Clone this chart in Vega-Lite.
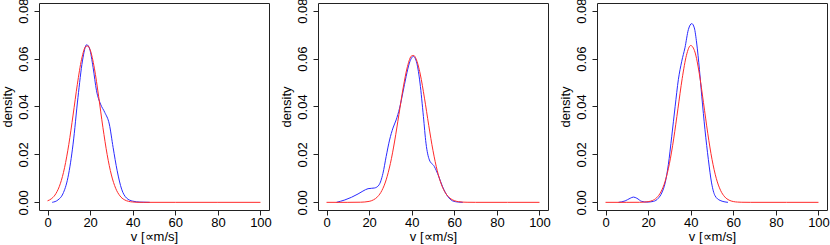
{
  "$schema": "https://vega.github.io/schema/vega-lite/v6.json",
  "padding": {"left": 0, "top": -3, "right": 2, "bottom": 0},
  "bounds": "flush",
  "spacing": 49,
  "background": "white",
  "datasets": {
    "curves": [
      {"panel": 1, "series": "empirical", "x": 2.2, "y": 0},
      {"panel": 1, "series": "empirical", "x": 4.9, "y": 0.001},
      {"panel": 1, "series": "empirical", "x": 7.2, "y": 0.0035},
      {"panel": 1, "series": "empirical", "x": 9.6, "y": 0.0104},
      {"panel": 1, "series": "empirical", "x": 12, "y": 0.0243},
      {"panel": 1, "series": "empirical", "x": 14.3, "y": 0.0438},
      {"panel": 1, "series": "empirical", "x": 16.4, "y": 0.059},
      {"panel": 1, "series": "empirical", "x": 18.4, "y": 0.0658},
      {"panel": 1, "series": "empirical", "x": 19.8, "y": 0.064},
      {"panel": 1, "series": "empirical", "x": 21.4, "y": 0.0563},
      {"panel": 1, "series": "empirical", "x": 23, "y": 0.0466},
      {"panel": 1, "series": "empirical", "x": 24.9, "y": 0.041},
      {"panel": 1, "series": "empirical", "x": 26.9, "y": 0.0375},
      {"panel": 1, "series": "empirical", "x": 29, "y": 0.0327},
      {"panel": 1, "series": "empirical", "x": 30.8, "y": 0.0229},
      {"panel": 1, "series": "empirical", "x": 32.7, "y": 0.0132},
      {"panel": 1, "series": "empirical", "x": 34.8, "y": 0.0055},
      {"panel": 1, "series": "empirical", "x": 37.1, "y": 0.0018},
      {"panel": 1, "series": "empirical", "x": 40, "y": 0.0005},
      {"panel": 1, "series": "empirical", "x": 43.4, "y": 0.0001},
      {"panel": 1, "series": "empirical", "x": 48, "y": 0},
      {"panel": 1, "series": "normal", "x": 0, "y": 0.00063},
      {"panel": 1, "series": "normal", "x": 2, "y": 0.00161},
      {"panel": 1, "series": "normal", "x": 4, "y": 0.00373},
      {"panel": 1, "series": "normal", "x": 6, "y": 0.00775},
      {"panel": 1, "series": "normal", "x": 8, "y": 0.01445},
      {"panel": 1, "series": "normal", "x": 10, "y": 0.0242},
      {"panel": 1, "series": "normal", "x": 12, "y": 0.03643},
      {"panel": 1, "series": "normal", "x": 14, "y": 0.04922},
      {"panel": 1, "series": "normal", "x": 16, "y": 0.05972},
      {"panel": 1, "series": "normal", "x": 18, "y": 0.06508},
      {"panel": 1, "series": "normal", "x": 19, "y": 0.06526},
      {"panel": 1, "series": "normal", "x": 20, "y": 0.0637},
      {"panel": 1, "series": "normal", "x": 22, "y": 0.056},
      {"panel": 1, "series": "normal", "x": 24, "y": 0.0442},
      {"panel": 1, "series": "normal", "x": 26, "y": 0.03133},
      {"panel": 1, "series": "normal", "x": 28, "y": 0.01995},
      {"panel": 1, "series": "normal", "x": 30, "y": 0.01141},
      {"panel": 1, "series": "normal", "x": 32, "y": 0.00586},
      {"panel": 1, "series": "normal", "x": 34, "y": 0.0027},
      {"panel": 1, "series": "normal", "x": 36, "y": 0.00112},
      {"panel": 1, "series": "normal", "x": 38, "y": 0.00042},
      {"panel": 1, "series": "normal", "x": 40, "y": 0.00014},
      {"panel": 1, "series": "normal", "x": 42, "y": 0.00004},
      {"panel": 1, "series": "normal", "x": 45, "y": 0},
      {"panel": 1, "series": "normal", "x": 60, "y": 0},
      {"panel": 1, "series": "normal", "x": 80, "y": 0},
      {"panel": 1, "series": "normal", "x": 100, "y": 0},
      {"panel": 2, "series": "empirical", "x": 4.7, "y": 0},
      {"panel": 2, "series": "empirical", "x": 8.6, "y": 0.001},
      {"panel": 2, "series": "empirical", "x": 11.7, "y": 0.0021},
      {"panel": 2, "series": "empirical", "x": 14.8, "y": 0.0035},
      {"panel": 2, "series": "empirical", "x": 17.1, "y": 0.0047},
      {"panel": 2, "series": "empirical", "x": 19.5, "y": 0.0057},
      {"panel": 2, "series": "empirical", "x": 22.6, "y": 0.006},
      {"panel": 2, "series": "empirical", "x": 24.6, "y": 0.0072},
      {"panel": 2, "series": "empirical", "x": 26.5, "y": 0.0121},
      {"panel": 2, "series": "empirical", "x": 28, "y": 0.0191},
      {"panel": 2, "series": "empirical", "x": 29.6, "y": 0.026},
      {"panel": 2, "series": "empirical", "x": 31.2, "y": 0.031},
      {"panel": 2, "series": "empirical", "x": 32.7, "y": 0.0344},
      {"panel": 2, "series": "empirical", "x": 34.3, "y": 0.0393},
      {"panel": 2, "series": "empirical", "x": 35.8, "y": 0.0456},
      {"panel": 2, "series": "empirical", "x": 37.4, "y": 0.0526},
      {"panel": 2, "series": "empirical", "x": 38.9, "y": 0.0581},
      {"panel": 2, "series": "empirical", "x": 40.8, "y": 0.0609},
      {"panel": 2, "series": "empirical", "x": 42.4, "y": 0.0581},
      {"panel": 2, "series": "empirical", "x": 43.9, "y": 0.0498},
      {"panel": 2, "series": "empirical", "x": 45.5, "y": 0.0358},
      {"panel": 2, "series": "empirical", "x": 46.7, "y": 0.0247},
      {"panel": 2, "series": "empirical", "x": 48.3, "y": 0.0177},
      {"panel": 2, "series": "empirical", "x": 50.6, "y": 0.015},
      {"panel": 2, "series": "empirical", "x": 52.6, "y": 0.011},
      {"panel": 2, "series": "empirical", "x": 54.5, "y": 0.0065},
      {"panel": 2, "series": "empirical", "x": 56.9, "y": 0.0025},
      {"panel": 2, "series": "empirical", "x": 59.2, "y": 0.0006},
      {"panel": 2, "series": "empirical", "x": 62, "y": 0.0001},
      {"panel": 2, "series": "empirical", "x": 64, "y": 0},
      {"panel": 2, "series": "normal", "x": 0, "y": 0},
      {"panel": 2, "series": "normal", "x": 10, "y": 0},
      {"panel": 2, "series": "normal", "x": 16, "y": 0.00005},
      {"panel": 2, "series": "normal", "x": 20, "y": 0.0004},
      {"panel": 2, "series": "normal", "x": 22, "y": 0.00102},
      {"panel": 2, "series": "normal", "x": 24, "y": 0.00235},
      {"panel": 2, "series": "normal", "x": 26, "y": 0.00492},
      {"panel": 2, "series": "normal", "x": 28, "y": 0.00938},
      {"panel": 2, "series": "normal", "x": 30, "y": 0.01624},
      {"panel": 2, "series": "normal", "x": 32, "y": 0.02559},
      {"panel": 2, "series": "normal", "x": 34, "y": 0.03667},
      {"panel": 2, "series": "normal", "x": 36, "y": 0.0478},
      {"panel": 2, "series": "normal", "x": 38, "y": 0.05668},
      {"panel": 2, "series": "normal", "x": 40, "y": 0.06114},
      {"panel": 2, "series": "normal", "x": 41, "y": 0.06128},
      {"panel": 2, "series": "normal", "x": 42, "y": 0.05999},
      {"panel": 2, "series": "normal", "x": 44, "y": 0.05355},
      {"panel": 2, "series": "normal", "x": 46, "y": 0.04348},
      {"panel": 2, "series": "normal", "x": 48, "y": 0.03212},
      {"panel": 2, "series": "normal", "x": 50, "y": 0.02158},
      {"panel": 2, "series": "normal", "x": 52, "y": 0.01319},
      {"panel": 2, "series": "normal", "x": 54, "y": 0.00733},
      {"panel": 2, "series": "normal", "x": 56, "y": 0.00371},
      {"panel": 2, "series": "normal", "x": 58, "y": 0.00171},
      {"panel": 2, "series": "normal", "x": 60, "y": 0.00071},
      {"panel": 2, "series": "normal", "x": 62, "y": 0.00027},
      {"panel": 2, "series": "normal", "x": 64, "y": 0.00009},
      {"panel": 2, "series": "normal", "x": 66, "y": 0.00003},
      {"panel": 2, "series": "normal", "x": 70, "y": 0},
      {"panel": 2, "series": "normal", "x": 85, "y": 0},
      {"panel": 2, "series": "normal", "x": 100, "y": 0},
      {"panel": 3, "series": "empirical", "x": 6.1, "y": 0},
      {"panel": 3, "series": "empirical", "x": 9.2, "y": 0.0006},
      {"panel": 3, "series": "empirical", "x": 11.6, "y": 0.0017},
      {"panel": 3, "series": "empirical", "x": 13.1, "y": 0.0022},
      {"panel": 3, "series": "empirical", "x": 14.7, "y": 0.0017},
      {"panel": 3, "series": "empirical", "x": 17, "y": 0.0004},
      {"panel": 3, "series": "empirical", "x": 19.4, "y": 0.0001},
      {"panel": 3, "series": "empirical", "x": 22.5, "y": 0.0004},
      {"panel": 3, "series": "empirical", "x": 24.8, "y": 0.0017},
      {"panel": 3, "series": "empirical", "x": 26.4, "y": 0.0039},
      {"panel": 3, "series": "empirical", "x": 28, "y": 0.0081},
      {"panel": 3, "series": "empirical", "x": 29.5, "y": 0.0157},
      {"panel": 3, "series": "empirical", "x": 31.1, "y": 0.0276},
      {"panel": 3, "series": "empirical", "x": 32.7, "y": 0.0401},
      {"panel": 3, "series": "empirical", "x": 34.2, "y": 0.0512},
      {"panel": 3, "series": "empirical", "x": 35.8, "y": 0.0589},
      {"panel": 3, "series": "empirical", "x": 37.3, "y": 0.0645},
      {"panel": 3, "series": "empirical", "x": 38.9, "y": 0.0721},
      {"panel": 3, "series": "empirical", "x": 40.5, "y": 0.0746},
      {"panel": 3, "series": "empirical", "x": 41.7, "y": 0.0728},
      {"panel": 3, "series": "empirical", "x": 42.8, "y": 0.0665},
      {"panel": 3, "series": "empirical", "x": 44.1, "y": 0.0554},
      {"panel": 3, "series": "empirical", "x": 45.2, "y": 0.0443},
      {"panel": 3, "series": "empirical", "x": 46.7, "y": 0.0303},
      {"panel": 3, "series": "empirical", "x": 48.3, "y": 0.0178},
      {"panel": 3, "series": "empirical", "x": 49.8, "y": 0.0081},
      {"panel": 3, "series": "empirical", "x": 51.4, "y": 0.0028},
      {"panel": 3, "series": "empirical", "x": 53.8, "y": 0.0008},
      {"panel": 3, "series": "empirical", "x": 57.5, "y": 0},
      {"panel": 3, "series": "normal", "x": 0, "y": 0},
      {"panel": 3, "series": "normal", "x": 10, "y": 0},
      {"panel": 3, "series": "normal", "x": 16, "y": 0.00002},
      {"panel": 3, "series": "normal", "x": 18, "y": 0.00009},
      {"panel": 3, "series": "normal", "x": 20, "y": 0.00027},
      {"panel": 3, "series": "normal", "x": 22, "y": 0.00075},
      {"panel": 3, "series": "normal", "x": 24, "y": 0.00191},
      {"panel": 3, "series": "normal", "x": 26, "y": 0.00433},
      {"panel": 3, "series": "normal", "x": 28, "y": 0.00881},
      {"panel": 3, "series": "normal", "x": 30, "y": 0.01612},
      {"panel": 3, "series": "normal", "x": 32, "y": 0.02647},
      {"panel": 3, "series": "normal", "x": 34, "y": 0.03902},
      {"panel": 3, "series": "normal", "x": 36, "y": 0.05164},
      {"panel": 3, "series": "normal", "x": 38, "y": 0.06137},
      {"panel": 3, "series": "normal", "x": 40, "y": 0.06547},
      {"panel": 3, "series": "normal", "x": 42, "y": 0.0627},
      {"panel": 3, "series": "normal", "x": 44, "y": 0.05392},
      {"panel": 3, "series": "normal", "x": 46, "y": 0.04163},
      {"panel": 3, "series": "normal", "x": 48, "y": 0.02885},
      {"panel": 3, "series": "normal", "x": 50, "y": 0.01795},
      {"panel": 3, "series": "normal", "x": 52, "y": 0.01003},
      {"panel": 3, "series": "normal", "x": 54, "y": 0.00503},
      {"panel": 3, "series": "normal", "x": 56, "y": 0.00227},
      {"panel": 3, "series": "normal", "x": 58, "y": 0.00092},
      {"panel": 3, "series": "normal", "x": 60, "y": 0.00033},
      {"panel": 3, "series": "normal", "x": 62, "y": 0.00011},
      {"panel": 3, "series": "normal", "x": 64, "y": 0.00003},
      {"panel": 3, "series": "normal", "x": 68, "y": 0},
      {"panel": 3, "series": "normal", "x": 85, "y": 0},
      {"panel": 3, "series": "normal", "x": 100, "y": 0}
    ]
  },
  "data": {"name": "curves"},
  "hconcat": [
    {
      "width": 230, "height": 207,
      "transform": [{"filter": "datum.panel == 1"}],
      "mark": {"type": "line", "strokeWidth": 1, "interpolate": "monotone"},
      "encoding": {
        "x": {"field": "x", "type": "quantitative", "title": "v [∝m/s]", "scale": {"domain": [-4, 104], "nice": false, "zero": false}, "axis": {"values": [0, 20, 40, 60, 80, 100]}},
        "y": {"field": "y", "type": "quantitative", "title": "density", "scale": {"domain": [-0.0032, 0.0832], "nice": false, "zero": false}, "axis": {"values": [0, 0.02, 0.04, 0.06, 0.08], "format": ".2f"}},
        "color": {"field": "series", "type": "nominal", "scale": {"domain": ["empirical", "normal"], "range": ["#2a2aff", "#ff2a2a"]}, "legend": null}
      }
    },
    {
      "width": 230, "height": 207,
      "transform": [{"filter": "datum.panel == 2"}],
      "mark": {"type": "line", "strokeWidth": 1, "interpolate": "monotone"},
      "encoding": {
        "x": {"field": "x", "type": "quantitative", "title": "v [∝m/s]", "scale": {"domain": [-4, 104], "nice": false, "zero": false}, "axis": {"values": [0, 20, 40, 60, 80, 100]}},
        "y": {"field": "y", "type": "quantitative", "title": "density", "scale": {"domain": [-0.0032, 0.0832], "nice": false, "zero": false}, "axis": {"values": [0, 0.02, 0.04, 0.06, 0.08], "format": ".2f"}},
        "color": {"field": "series", "type": "nominal", "scale": {"domain": ["empirical", "normal"], "range": ["#2a2aff", "#ff2a2a"]}, "legend": null}
      }
    },
    {
      "width": 230, "height": 207,
      "transform": [{"filter": "datum.panel == 3"}],
      "mark": {"type": "line", "strokeWidth": 1, "interpolate": "monotone"},
      "encoding": {
        "x": {"field": "x", "type": "quantitative", "title": "v [∝m/s]", "scale": {"domain": [-4, 104], "nice": false, "zero": false}, "axis": {"values": [0, 20, 40, 60, 80, 100]}},
        "y": {"field": "y", "type": "quantitative", "title": "density", "scale": {"domain": [-0.0032, 0.0832], "nice": false, "zero": false}, "axis": {"values": [0, 0.02, 0.04, 0.06, 0.08], "format": ".2f"}},
        "color": {"field": "series", "type": "nominal", "scale": {"domain": ["empirical", "normal"], "range": ["#2a2aff", "#ff2a2a"]}, "legend": null}
      }
    }
  ],
  "resolve": {"scale": {"color": "shared"}},
  "config": {
    "view": {"stroke": "#222222", "strokeWidth": 1},
    "axis": {
      "domain": false,
      "grid": false,
      "ticks": true,
      "tickColor": "#222222",
      "tickSize": 5,
      "labelFont": "Liberation Sans",
      "labelFontSize": 13,
      "labelColor": "#000000",
      "labelFlush": false,
      "labelOverlap": false,
      "titleFont": "Liberation Sans",
      "titleFontSize": 13,
      "titleFontWeight": "normal",
      "titleColor": "#000000"
    },
    "axisX": {"labelPadding": 1, "titlePadding": 1},
    "axisY": {"labelAngle": -90, "labelAlign": "center", "labelBaseline": "bottom", "labelPadding": 4, "titlePadding": 3}
  }
}
